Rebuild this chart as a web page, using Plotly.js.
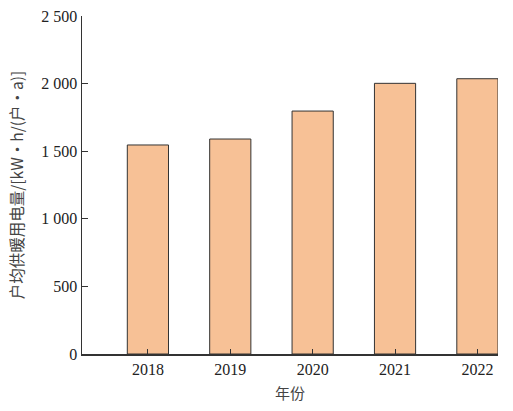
<!DOCTYPE html>
<html>
<head>
<meta charset="utf-8">
<script src="https://cdn.plot.ly/plotly-3.0.1.min.js"></script>
<style>html,body{margin:0;padding:0;background:#fff;}#chart{width:513px;height:411px;}</style>
</head>
<body>
<div id="chart"></div>
<script>
const years = ["2018", "2019", "2020", "2021", "2022"];
const consumption = [1546, 1590, 1797, 2002, 2036];
const yTickVals = [0, 500, 1000, 1500, 2000, 2500];
const yTickText = ["0", "500", "1 000", "1 500", "2 000", "2 500"];
const xTitle = "年份";
const yTitle = "户均供暖用电量/[kW·h/(户·a)]";

const serif = "Liberation Serif, Times New Roman, Noto Sans CJK SC, serif";

Plotly.newPlot("chart", [{
  type: "bar",
  x: years,
  y: consumption,
  width: 0.5,
  marker: {color: "#F7C196", line: {color: "#333333", width: 1}},
  hoverinfo: "skip"
}], {
  width: 513, height: 411,
  margin: {l: 82, r: 15, t: 16, b: 57},
  paper_bgcolor: "#ffffff", plot_bgcolor: "#ffffff",
  showlegend: false,
  font: {family: serif, color: "#222"},
  xaxis: {
    type: "category",
    range: [-0.8, 4.25],
    showline: true, linecolor: "#333", linewidth: 1.5,
    ticks: "inside", ticklen: 5, tickcolor: "#333",
    showgrid: false, zeroline: false,
    tickfont: {family: serif, size: 16, color: "#222"},
    title: {text: xTitle, font: {family: "Noto Sans CJK SC, sans-serif", size: 15, color: "#444"}, standoff: 12}
  },
  yaxis: {
    range: [0, 2500],
    tickvals: yTickVals, ticktext: yTickText,
    showline: true, linecolor: "#333", linewidth: 1.5,
    ticks: "inside", ticklen: 6, tickcolor: "#333",
    showgrid: false, zeroline: false,
    tickfont: {family: serif, size: 16, color: "#222"},
    title: {text: yTitle, font: {family: "Noto Sans CJK SC, serif", size: 15.5, color: "#444"}, standoff: 14}
  }
}, {displayModeBar: false, staticPlot: true});
</script>
</body>
</html>
